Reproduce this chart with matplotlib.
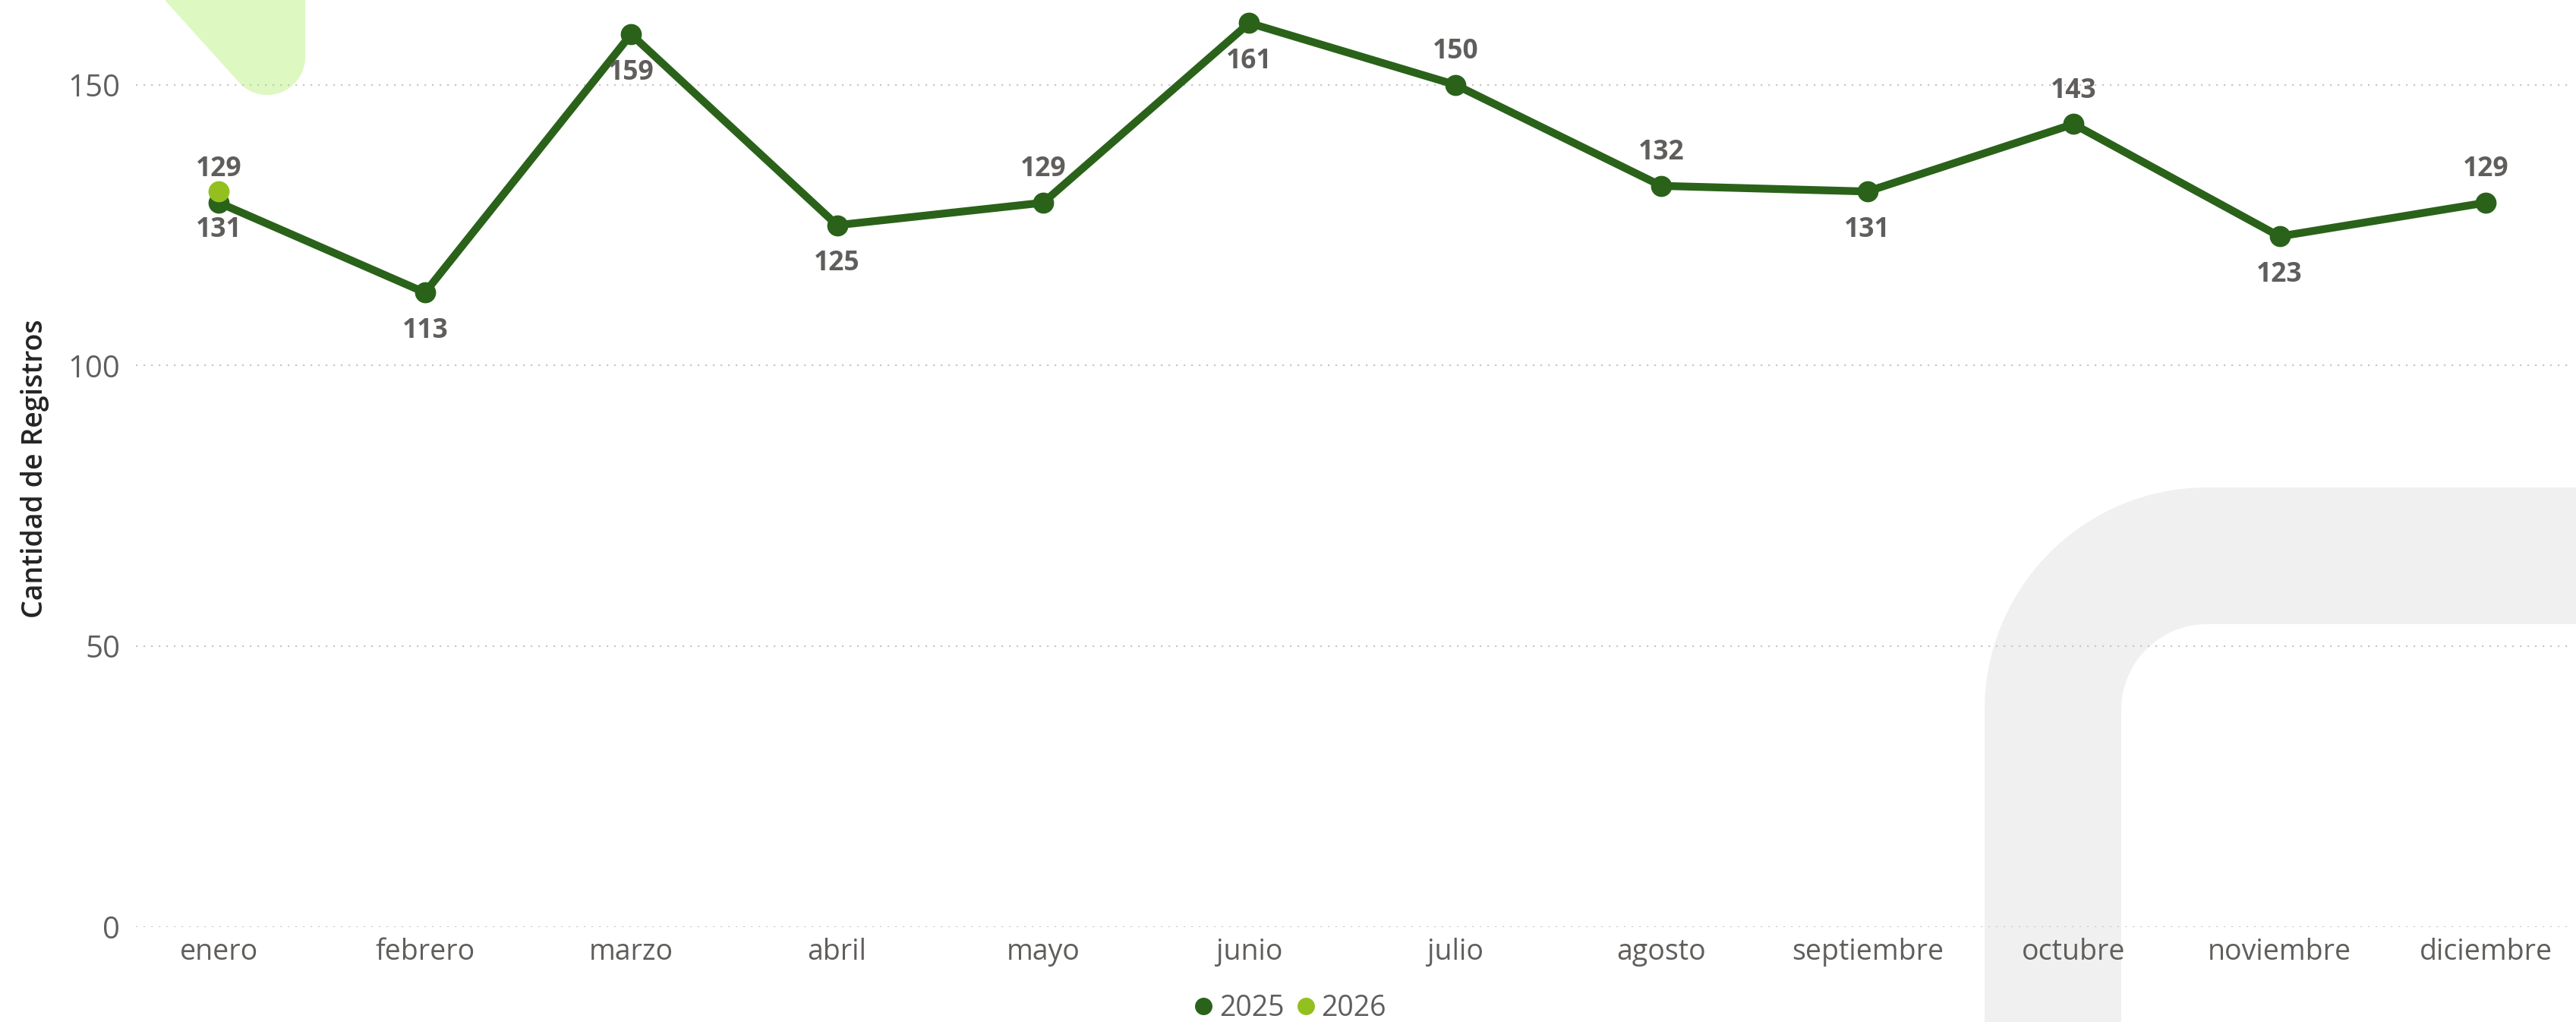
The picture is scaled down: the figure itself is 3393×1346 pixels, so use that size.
import numpy as np
import matplotlib
matplotlib.use("Agg")
import matplotlib.pyplot as plt
from matplotlib.patches import Polygon
from matplotlib.lines import Line2D

# ---- data -------------------------------------------------------------
months = ["enero", "febrero", "marzo", "abril", "mayo", "junio", "julio",
          "agosto", "septiembre", "octubre", "noviembre", "diciembre"]
registros_2025 = [129, 113, 159, 125, 129, 161, 150, 132, 131, 143, 123, 129]
registros_2026 = [131]
series_names = ["2025", "2026"]
y_ticks = [0, 50, 100, 150]
y_title = "Cantidad de Registros"

# placement of the value labels (above / below each point)
side_2025 = ["above", "below", "below", "below", "above", "below",
             "above", "above", "below", "above", "below", "above"]
side_2026 = ["below"]

# ---- style ------------------------------------------------------------
DARK = "#2A621A"
LIGHT = "#93C01F"
LABEL_GREY = "#605E5C"
TITLE_GREY = "#252423"
FONT = ["Open Sans", "DejaVu Sans"]
plt.rcParams["font.family"] = FONT

W, H, DPI = 3393, 1346, 100
fig = plt.figure(figsize=(W / DPI, H / DPI), dpi=DPI, facecolor="white")

# ---- background decorations (pixel coordinates) -----------------------
bg = fig.add_axes([0, 0, 1, 1], zorder=0)
bg.set_xlim(0, W)
bg.set_ylim(H, 0)
bg.axis("off")

# light-green wedge at the top left: a diagonal edge and a rounded tip
cx, cy, r = 352, 75, 50
n = np.array([0.743, -0.669])
tangent = np.array([cx, cy]) - r * n
a1 = np.arctan2(tangent[1] - cy, tangent[0] - cx)
ang = np.linspace(0.0, a1, 60)
arc = np.column_stack([cx + r * np.cos(ang), cy + r * np.sin(ang)])
wedge = np.vstack([[217, 0], [402, 0], [402, cy], arc, [217, 0]])
bg.add_patch(Polygon(wedge, closed=True, facecolor="#DDF8C0", edgecolor="none"))

# light-grey rounded band at the bottom right
gx, gy = 2907, 935
r_out, r_in = 293, 113
ang = np.linspace(np.pi, 1.5 * np.pi, 80)
outer = np.column_stack([gx + r_out * np.cos(ang), gy + r_out * np.sin(ang)])
inner = np.column_stack([gx + r_in * np.cos(ang[::-1]), gy + r_in * np.sin(ang[::-1])])
band = np.vstack([[gx - r_out, H], outer, [W, gy - r_out], [W, gy - r_in],
                  inner, [gx - r_in, H]])
bg.add_patch(Polygon(band, closed=True, facecolor="#F0F0F0", edgecolor="none"))

# ---- main chart -------------------------------------------------------
left, right, bottom_px = 179, 3385, 1221
ax = fig.add_axes([left / W, (H - bottom_px) / H, (right - left) / W, bottom_px / H],
                  zorder=1)
ax.patch.set_alpha(0)

x = np.arange(len(months))
ax.plot(x, registros_2025, color=DARK, lw=7.4, marker="o", ms=19,
        solid_joinstyle="round", solid_capstyle="round", zorder=3)
x26 = np.arange(len(registros_2026))
ax.plot(x26, registros_2026, color=LIGHT, lw=7.4, marker="o", ms=19,
        linestyle="none" if len(registros_2026) < 2 else "-", zorder=4)

def put_labels(xs, ys, sides):
    for xi, yi, s in zip(xs, ys, sides):
        off = 25 if s == "above" else -43
        ax.annotate(f"{yi}", (xi, yi), xytext=(0, off), textcoords="offset points",
                    ha="center", va="baseline", fontsize=25.5, fontweight="bold",
                    color=LABEL_GREY, zorder=5)

put_labels(x, registros_2025, side_2025)
put_labels(x26, registros_2026, side_2026)

ax.set_xlim(-0.403, 11.409)
ax.set_ylim(0, 165.1)
ax.set_yticks(y_ticks)
ax.set_xticks(x)
ax.set_xticklabels(months)
ax.tick_params(axis="both", length=0, labelcolor=LABEL_GREY)
ax.tick_params(axis="y", pad=15, labelsize=29)
ax.tick_params(axis="x", pad=10, labelsize=27)
ax.grid(axis="y", color="#C8C8C8", lw=1.6, linestyle=(0, (1, 3.5)))
ax.grid(axis="x", visible=False)
ax.set_axisbelow(True)
for sp in ax.spines.values():
    sp.set_visible(False)

fig.text(46 / W, 1 - 617 / H, y_title, rotation=90, ha="center", va="center",
         fontsize=27, fontweight="semibold", color=TITLE_GREY)

# ---- legend -----------------------------------------------------------
handles = [Line2D([], [], linestyle="none", marker="o", ms=15.5, color=c)
           for c in (DARK, LIGHT)]
fig.legend(handles, series_names, loc="center", ncol=2,
           bbox_to_anchor=(1700 / W, 1 - 1328 / H), frameon=False,
           fontsize=27, labelcolor=LABEL_GREY, handlelength=0.6,
           handletextpad=0.25, columnspacing=0.45, borderpad=0)

fig.savefig("out.png", dpi=DPI, facecolor="white")
